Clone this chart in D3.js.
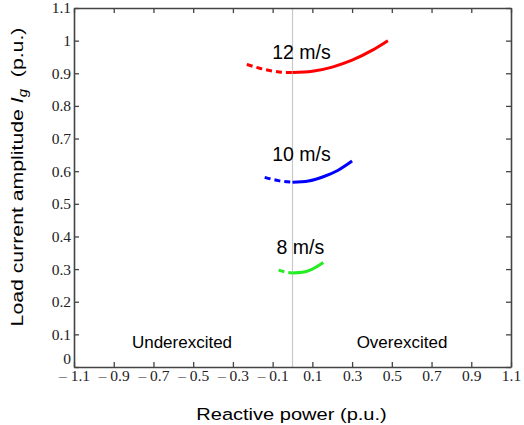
<!DOCTYPE html>
<html>
<head>
<meta charset="utf-8">
<script src="https://cdn.jsdelivr.net/npm/d3@7"></script>
<style>
  body { margin: 0; background: #fff; }
  svg { display: block; }
</style>
</head>
<body>
<script>
// x ticks and y ticks
var xTicks = [-1.1, -0.9, -0.7, -0.5, -0.3, -0.1, 0.1, 0.3, 0.5, 0.7, 0.9, 1.1];
var yTicks = [0, 0.1, 0.2, 0.3, 0.4, 0.5, 0.6, 0.7, 0.8, 0.9, 1, 1.1];

// wind speeds
var speeds = ["12 m/s", "10 m/s", "8 m/s"];
var colors = ["#ff0000", "#0000ff", "#22ee22"];

// underexcited part (dashed), q < 0
var underQ = [
    [-0.23, -0.17, -0.11, -0.05, 0],
    [-0.14, -0.07, 0],
    [-0.07, -0.035, 0]
];
var underI = [
    [0.927, 0.916, 0.908, 0.903, 0.902],
    [0.581, 0.571, 0.566],
    [0.297, 0.291, 0.288]
];

// overexcited part (solid), q > 0
var overQ = [
    [0, 0.1, 0.2, 0.3, 0.4, 0.48],
    [0, 0.08, 0.155, 0.23, 0.30],
    [0, 0.05, 0.1, 0.155]
];
var overI = [
    [0.902, 0.906, 0.919, 0.940, 0.970, 1.0],
    [0.566, 0.570, 0.583, 0.603, 0.631],
    [0.288, 0.290, 0.300, 0.320]
];

// label positions (q, I) for speed labels
var labelQ = [0.045, 0.045, 0.04];
var labelI = [0.945, 0.632, 0.345];

function init() {
    var w = 524, h = 425;
    var left = 74, right = 511, top = 8, bottom = 367;
    var sans = "'Liberation Sans', Arial, sans-serif";

    var svg = d3.select("body").append("svg")
        .attr("width", w)
        .attr("height", h);

    var x = d3.scaleLinear().domain([-1.1, 1.1]).range([left, right]);
    var y = d3.scaleLinear().domain([0, 1.1]).range([bottom, top]);

    // zero line
    svg.append("line")
        .attr("x1", x(0)).attr("x2", x(0))
        .attr("y1", top).attr("y2", bottom)
        .attr("stroke", "#c8c8c8")
        .attr("stroke-width", 1.2);

    var fmtX = function(d) {
        return d < 0 ? "\u2013 " + Math.abs(d).toFixed(1) : d.toFixed(1);
    };
    var fmtY = function(d) { return d === 0 ? "0" : d3.format("")(+d.toFixed(1)); };

    var axisColor = "#444";

    // bottom axis
    var gx = svg.append("g")
        .attr("transform", "translate(0," + bottom + ")")
        .call(d3.axisBottom(x).tickValues(xTicks).tickSizeInner(-5).tickSizeOuter(0).tickPadding(3).tickFormat(fmtX));
    // top axis
    var gxt = svg.append("g")
        .attr("transform", "translate(0," + top + ")")
        .call(d3.axisTop(x).tickValues(xTicks).tickSizeInner(-5).tickSizeOuter(0).tickFormat(""));
    // left axis
    var gy = svg.append("g")
        .attr("transform", "translate(" + left + ",0)")
        .call(d3.axisLeft(y).tickValues(yTicks).tickSizeInner(-5).tickSizeOuter(0).tickPadding(3).tickFormat(fmtY));
    // right axis
    var gyr = svg.append("g")
        .attr("transform", "translate(" + right + ",0)")
        .call(d3.axisRight(y).tickValues(yTicks).tickSizeInner(-5).tickSizeOuter(0).tickFormat(""));

    [gx, gxt, gy, gyr].forEach(function(g) {
        g.select(".domain").attr("stroke", axisColor).attr("stroke-width", 1.6);
        g.selectAll(".tick line").attr("stroke", axisColor).attr("stroke-width", 1.3);
        g.selectAll("text")
            .attr("fill", "#222")
            .style("font-family", "'Liberation Serif', 'Times New Roman', serif")
            .style("font-size", "15.5px");
    });
    gy.selectAll("text").attr("dy", "0.32em");
    gy.selectAll(".tick").filter(function(d) { return d === 0; }).select("text").attr("dy", "-0.2em");

    // curves
    var line = d3.line()
        .x(function(d) { return x(d[0]); })
        .y(function(d) { return y(d[1]); })
        .curve(d3.curveMonotoneX);

    speeds.forEach(function(s, i) {
        var under = underQ[i].map(function(q, j) { return [q, underI[i][j]]; });
        var over = overQ[i].map(function(q, j) { return [q, overI[i][j]]; });
        svg.append("path")
            .attr("d", line(under))
            .attr("fill", "none")
            .attr("stroke", colors[i])
            .attr("stroke-width", 3)
            .attr("stroke-dasharray", "6,4");
        svg.append("path")
            .attr("d", line(over))
            .attr("fill", "none")
            .attr("stroke", colors[i])
            .attr("stroke-width", 3);
        svg.append("text")
            .attr("x", x(labelQ[i]))
            .attr("y", y(labelI[i]))
            .attr("text-anchor", "middle")
            .style("font-family", sans)
            .style("font-size", "19.5px")
            .text(s);
    });

    // region labels
    svg.append("text")
        .attr("x", 182).attr("y", 348)
        .attr("text-anchor", "middle")
        .style("font-family", sans)
        .style("font-size", "17px")
        .text("Underexcited");
    svg.append("text")
        .attr("x", 402).attr("y", 348)
        .attr("text-anchor", "middle")
        .style("font-family", sans)
        .style("font-size", "17px")
        .text("Overexcited");

    // axis titles
    svg.append("text")
        .attr("transform", "translate(" + ((left + right) / 2 - 1) + ",420) scale(1.18,1)")
        .attr("text-anchor", "middle")
        .style("font-family", sans)
        .style("font-size", "17px")
        .text("Reactive power (p.u.)");

    var yl = svg.append("text")
        .attr("transform", "translate(23,177) rotate(-90) scale(1.25,1)")
        .attr("text-anchor", "middle")
        .style("font-family", sans)
        .style("font-size", "17px");
    yl.append("tspan").text("Load current amplitude ");
    yl.append("tspan").style("font-style", "italic").text("I");
    yl.append("tspan").attr("dy", 4).style("font-size", "12px").style("font-style", "italic").text("g");
    yl.append("tspan").attr("dy", -4).text("\u00a0 (p.u.)");
}

window.onload = init;
</script>
</body>
</html>
